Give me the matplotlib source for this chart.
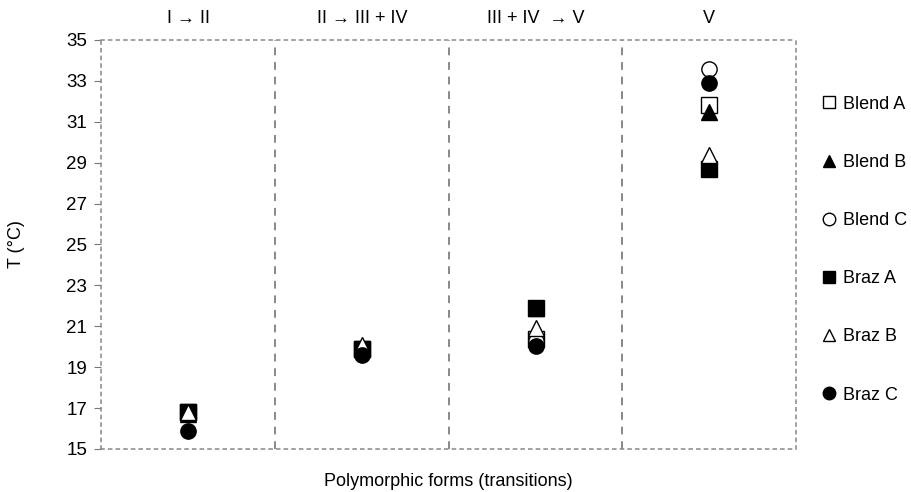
import matplotlib
matplotlib.use("Agg")
import matplotlib.pyplot as plt
from matplotlib.lines import Line2D

plt.rcParams['font.family'] = ['Liberation Sans', 'DejaVu Sans']

groups = ["I \u2192 II", "II \u2192 III + IV", "III + IV  \u2192 V", "V"]
series = ["Blend A", "Blend B", "Blend C", "Braz A", "Braz B", "Braz C"]
blend_a = [16.8, 19.9, 20.4, 31.8]
blend_b = [16.7, 20.0, 21.9, 31.5]
blend_c = [16.8, 19.7, 20.3, 33.6]
braz_a = [16.8, 19.9, 21.9, 28.7]
braz_b = [16.8, 20.1, 20.9, 29.4]
braz_c = [15.9, 19.6, 20.05, 32.9]
yticks = [15, 17, 19, 21, 23, 25, 27, 29, 31, 33, 35]

values = [blend_a, blend_b, blend_c, braz_a, braz_b, braz_c]
styles = [
    dict(marker='s', mfc='white', mec='black'),
    dict(marker='^', mfc='black', mec='black'),
    dict(marker='o', mfc='white', mec='black'),
    dict(marker='s', mfc='black', mec='black'),
    dict(marker='^', mfc='white', mec='black'),
    dict(marker='o', mfc='black', mec='black'),
]

fig = plt.figure(figsize=(9.11, 4.92), dpi=100)
ax = fig.add_axes([0.111, 0.0874, 0.763, 0.8313])
xs = [i + 0.5 for i in range(len(groups))]

handles = []
for name, vals, st in zip(series, values, styles):
    ax.plot(xs, vals, linestyle='none', markersize=11, mew=1.0,
            label=name, **st)
    handles.append(Line2D([], [], linestyle='none', markersize=9, mew=1.0, **st))

ax.set_xlim(0, 4)
ax.set_ylim(15, 35)
ax.set_yticks(yticks)
ax.set_xticks([])
ax.tick_params(axis='y', labelsize=13.5, length=5, color='#777777', width=0.8, pad=5)

for s in ['top', 'bottom', 'left', 'right']:
    ax.spines[s].set_linestyle((0, (2, 3)))
    ax.spines[s].set_color('#888888')
    ax.spines[s].set_linewidth(1.1)
for xv in [1, 2, 3]:
    ax.axvline(xv, color='#888888', linestyle=(0, (4, 3.5)), linewidth=1.4)

for x, g in zip(xs, groups):
    ax.text(x, 1.052, g, transform=ax.get_xaxis_transform(), ha='center',
            va='center', fontsize=13)

ax.set_ylabel("T (\u00b0C)", fontsize=13, labelpad=30)
ax.set_xlabel("Polymorphic forms (transitions)", fontsize=13, labelpad=17)

fig.legend(handles, series, loc='upper left', bbox_to_anchor=(0.894, 0.82),
           frameon=False, fontsize=13, labelspacing=2.28, handlelength=0.8,
           handletextpad=0.4, borderaxespad=0)

fig.savefig("out.png", dpi=100)
